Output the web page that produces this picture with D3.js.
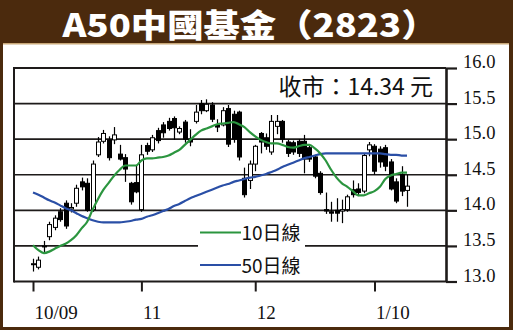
<!DOCTYPE html>
<html><head><meta charset="utf-8">
<script src="https://cdn.jsdelivr.net/npm/d3@7"></script>
<style>html,body{margin:0;padding:0;background:#fff;} svg{display:block;}</style>
</head><body>
<svg id="chart" width="513" height="330"></svg>
<script>
const dates = [
 "2009-10-02","2009-10-05","2009-10-06","2009-10-07","2009-10-08","2009-10-09",
 "2009-10-12","2009-10-13","2009-10-14","2009-10-15","2009-10-16",
 "2009-10-19","2009-10-20","2009-10-21","2009-10-22","2009-10-23",
 "2009-10-27","2009-10-28","2009-10-29","2009-10-30",
 "2009-11-02","2009-11-03","2009-11-04","2009-11-05","2009-11-06",
 "2009-11-09","2009-11-10","2009-11-11","2009-11-12","2009-11-13",
 "2009-11-16","2009-11-17","2009-11-18","2009-11-19","2009-11-20",
 "2009-11-23","2009-11-24","2009-11-25","2009-11-26","2009-11-27","2009-11-30",
 "2009-12-01","2009-12-02","2009-12-03","2009-12-04",
 "2009-12-07","2009-12-08","2009-12-09","2009-12-10","2009-12-11",
 "2009-12-14","2009-12-15","2009-12-16","2009-12-17","2009-12-18",
 "2009-12-21","2009-12-22","2009-12-23","2009-12-24",
 "2009-12-28","2009-12-29","2009-12-30","2009-12-31",
 "2010-01-04","2010-01-05","2010-01-06","2010-01-07","2010-01-08",
 "2010-01-11","2010-01-12"];

const openP = [13.24,13.20,13.49,13.63,13.76,13.98,14.10,14.02,14.10,14.40,
 14.38,14.01,14.78,14.97,14.99,14.99,14.79,14.74,14.38,14.39,
 14.01,14.91,14.85,15.12,15.20,15.25,15.29,15.10,15.24,15.00,
 15.25,15.50,15.40,15.48,15.20,15.20,15.43,15.35,15.38,14.45,
 14.42,14.65,15.08,15.02,14.82,15.18,15.25,14.96,14.95,14.97,
 14.97,14.88,14.75,14.52,14.01,13.98,14.00,13.99,14.01,14.29,
 14.30,14.27,14.85,14.90,14.86,14.88,14.68,14.40,14.50,14.28];
const highP = [13.32,13.35,13.57,13.84,13.93,14.03,14.14,14.10,14.36,14.46,
 14.45,14.70,15.03,15.13,15.04,15.17,14.92,14.79,14.40,14.63,
 14.92,14.95,15.06,15.16,15.24,15.30,15.32,15.18,15.27,15.14,
 15.48,15.55,15.56,15.52,15.28,15.45,15.48,15.40,15.40,14.60,
 14.70,14.92,15.10,15.08,15.34,15.34,15.27,14.99,14.98,15.00,
 15.06,14.92,14.78,14.55,14.25,14.12,14.17,14.15,14.22,14.42,
 14.38,14.80,14.96,14.93,14.90,14.92,14.72,14.45,14.62,14.50];
const lowP = [13.14,13.17,13.40,13.58,13.72,13.84,13.74,13.97,14.05,14.28,
 13.98,13.98,14.75,14.94,14.70,14.93,14.70,14.40,14.08,14.24,
 13.98,14.78,14.82,14.94,15.02,15.12,14.99,15.07,14.95,14.90,
 15.22,15.35,15.38,15.24,15.10,15.18,14.89,14.95,14.70,14.18,
 14.30,14.55,14.80,14.85,14.78,15.07,14.95,14.75,14.78,14.75,
 14.52,14.68,14.45,14.22,13.95,13.84,13.84,13.82,13.98,14.18,
 14.20,14.24,14.76,14.50,14.60,14.55,14.28,14.10,14.20,14.05];
const closeP = [13.25,13.30,13.50,13.80,13.89,13.87,13.78,14.04,14.31,14.33,
 14.00,14.65,14.96,15.08,14.74,15.06,14.72,14.58,14.12,14.26,
 14.78,14.83,15.02,14.98,15.09,15.15,15.16,15.15,15.00,14.96,
 15.38,15.40,15.49,15.28,15.17,15.40,14.93,15.00,14.75,14.22,
 14.65,14.90,14.96,14.90,15.25,15.25,15.00,14.80,14.82,14.80,
 14.72,14.72,14.48,14.25,13.99,13.96,13.96,14.01,14.19,14.22,
 14.25,14.77,14.92,14.55,14.68,14.62,14.30,14.13,14.27,14.34];
const ma10 = [13.51,13.44,13.40,13.42,13.46,13.50,13.53,13.58,13.65,13.75,
 13.84,14.01,14.16,14.29,14.39,14.49,14.57,14.63,14.63,14.63,
 14.70,14.73,14.73,14.74,14.75,14.77,14.81,14.85,14.92,14.99,
 15.06,15.12,15.15,15.18,15.21,15.22,15.23,15.24,15.21,15.17,
 15.10,15.04,14.99,14.96,14.94,14.94,14.92,14.89,14.88,14.90,
 14.92,14.92,14.87,14.80,14.70,14.57,14.46,14.38,14.33,14.27,
 14.21,14.21,14.24,14.27,14.33,14.44,14.49,14.51,14.53,14.53];
const ma50 = [14.25,14.22,14.18,14.14,14.11,14.07,14.03,14.00,13.96,13.92,
 13.89,13.86,13.84,13.83,13.83,13.83,13.83,13.84,13.85,13.87,
 13.88,13.91,13.93,13.96,13.99,14.02,14.06,14.09,14.13,14.17,
 14.20,14.23,14.26,14.29,14.32,14.35,14.37,14.40,14.42,14.44,
 14.46,14.47,14.49,14.51,14.54,14.57,14.61,14.64,14.67,14.70,
 14.73,14.75,14.77,14.79,14.80,14.80,14.80,14.80,14.80,14.80,
 14.80,14.80,14.80,14.80,14.80,14.79,14.78,14.78,14.77,14.77];
const yTicks = [13.0,13.5,14.0,14.5,15.0,15.5,16.0];
const xTickDates = ["2009-10-02","2009-11-02","2009-12-01","2010-01-04"];
const xTickLabels = ["10/09","11","12","1/10"];
const titleText = "A50中國基金（2823）";
const closeText = "收市：14.34 元";
const legendNames = ["10日線","50日線"];

const W = 513, H = 330;
const brown = "#4b2a0d";
const ink = "#1e1b1a";
const svg = d3.select("#chart");

// frame
svg.append("rect").attr("x",0).attr("y",0).attr("width",W).attr("height",H).attr("fill",brown);
svg.append("rect").attr("x",3).attr("y",43).attr("width",W-7).attr("height",H-46).attr("fill","#c9a878");
svg.append("rect").attr("x",3).attr("y",44.5).attr("width",W-7).attr("height",H-47.5).attr("fill","#ffffff");

svg.append("text").attr("x",250).attr("y",37)
  .attr("text-anchor","middle")
  .attr("textLength",375).attr("lengthAdjust","spacingAndGlyphs")
  .style("font-family","'Noto Sans CJK TC','Noto Sans CJK SC',sans-serif")
  .style("font-weight","900").style("font-size","32px")
  .attr("fill","#ffffff").text(titleText);

const pL = 14, pR = 446, pT = 68, pB = 281.5;
const x = d3.scalePoint().domain(dates).range([33, 407]);
const y = d3.scaleLinear().domain([13, 16]).range([pB, pT]);

// gridlines
svg.append("g").selectAll("line").data(yTicks.filter(v => v > 13 && v < 16)).join("line")
  .attr("x1", pL).attr("x2", pR).attr("y1", d => y(d)).attr("y2", d => y(d))
  .attr("stroke", ink).attr("stroke-width", 1.6);
svg.append("line").attr("x1",pL).attr("x2",pR).attr("y1",y(16)).attr("y2",y(16)).attr("stroke",ink).attr("stroke-width",2);
svg.append("line").attr("x1",pL).attr("x2",pR).attr("y1",y(13)).attr("y2",y(13)).attr("stroke",ink).attr("stroke-width",2.2);
svg.append("line").attr("x1",pL).attr("x2",pL).attr("y1",pT-1).attr("y2",pB+1).attr("stroke",ink).attr("stroke-width",2);

// right axis
const yAxis = svg.append("g").attr("transform",`translate(${pR},0)`)
  .call(d3.axisRight(y).tickValues(yTicks).tickSize(11).tickSizeOuter(0).tickPadding(6).tickFormat(d3.format(".1f")));
yAxis.select(".domain").attr("stroke",ink).attr("stroke-width",2.6);
yAxis.selectAll(".tick line").attr("stroke",ink).attr("stroke-width",2.2);
yAxis.selectAll(".tick text").attr("dy","-0.5").attr("fill","#111")
  .style("font-family","'Liberation Serif','Times New Roman',serif").style("font-size","18.5px");

// bottom axis
const labelMap = new Map(xTickDates.map((d,i)=>[d, xTickLabels[i]]));
const xAxis = svg.append("g").attr("transform",`translate(0,${pB})`)
  .call(d3.axisBottom(x).tickValues(xTickDates).tickSize(10).tickSizeOuter(0).tickFormat(d => labelMap.get(d)));
xAxis.select(".domain").remove();
xAxis.selectAll(".tick line").attr("stroke",ink).attr("stroke-width",2);
xAxis.selectAll(".tick text").attr("text-anchor","start").attr("x",1).attr("y",37.5).attr("dy","0")
  .attr("fill","#111").style("font-family","'Liberation Serif','Times New Roman',serif").style("font-size","19px");

// candles
const cData = dates.map((d,i)=>({d, o:openP[i], h:highP[i], l:lowP[i], c:closeP[i]}));
const cg = svg.append("g");
cg.selectAll("line").data(cData).join("line")
  .attr("x1", d => Math.round(x(d.d))+0.5).attr("x2", d => Math.round(x(d.d))+0.5)
  .attr("y1", d => y(d.h)).attr("y2", d => y(d.l))
  .attr("stroke","#000").attr("stroke-width",1.2);
cg.selectAll("rect").data(cData).join("rect")
  .attr("x", d => Math.round(x(d.d)) - 1.5)
  .attr("width", 4)
  .attr("y", d => y(Math.max(d.o,d.c)))
  .attr("height", d => Math.max(1, Math.abs(y(d.o)-y(d.c))))
  .attr("fill", d => d.c >= d.o ? "#fff" : "#000")
  .attr("stroke","#000").attr("stroke-width",1);

// moving averages
const lineGen = arr => d3.line().x((v,i)=>x(dates[i])).y(v=>y(v)).curve(d3.curveMonotoneX)(arr);
svg.append("path").attr("d", lineGen(ma50)).attr("fill","none").attr("stroke","#2a4fa6").attr("stroke-width",2.2);
svg.append("path").attr("d", lineGen(ma10)).attr("fill","none").attr("stroke","#2b953f").attr("stroke-width",2.2);

// close text
svg.append("text").attr("x",433).attr("y",95).attr("text-anchor","end")
  .style("font-family","'Noto Sans CJK TC','Noto Sans CJK SC',sans-serif").style("font-size","23px")
  .attr("fill","#111").text(closeText);

// legend
svg.append("rect").attr("x",198).attr("y",218).attr("width",107).attr("height",60).attr("fill","#fff");
const legendColors = ["#2b953f","#2a4fa6"];
const legendY = [232.5, 265];
const lg = svg.append("g");
legendNames.forEach((name,i)=>{
  lg.append("line").attr("x1",200).attr("x2",241).attr("y1",legendY[i]).attr("y2",legendY[i])
    .attr("stroke",legendColors[i]).attr("stroke-width",2.2);
  lg.append("text").attr("x",241.5).attr("y",legendY[i]+7.5)
    .style("font-family","'Noto Sans CJK TC','Noto Sans CJK SC',sans-serif").style("font-size","19px")
    .attr("fill","#111").text(name);
});
</script>
</body></html>
